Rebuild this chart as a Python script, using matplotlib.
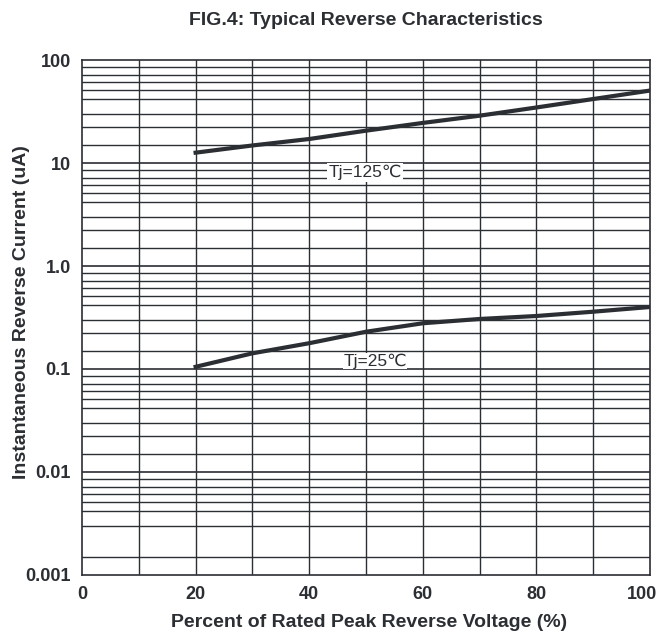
import matplotlib
matplotlib.use("Agg")
import matplotlib.pyplot as plt
import matplotlib.transforms as mtransforms

plt.rcParams["font.family"] = ["Liberation Sans", "DejaVu Sans"]

# data
voltage_pct = [20, 30, 40, 50, 60, 70, 80, 90, 100]
current_125c = [12.6, 14.8, 17.1, 20.6, 24.5, 28.8, 34.6, 41.8, 50.5]
current_25c = [0.105, 0.142, 0.178, 0.23, 0.278, 0.306, 0.327, 0.36, 0.40]

x_ticks = [0, 20, 40, 60, 80, 100]
y_ticks = [0.001, 0.01, 0.1, 1, 10, 100]
y_tick_labels = ["0.001", "0.01", "0.1", "1.0", "10", "100"]

# the printed log grid is not a regular one
minor_steps = [1.5, 2.25, 3, 4.2, 5.1, 6.1, 7.2, 8.5]

ink = "#2b2e33"

fig = plt.figure(figsize=(6.62, 6.35), dpi=100)
ax = fig.add_axes([0.1239, 0.0945, 0.8580, 0.8110])

ax.set_yscale("log")
ax.set_xlim(0, 100)
ax.set_ylim(0.001, 100)

# grid
for x in range(10, 100, 10):
    ax.axvline(x, color=ink, lw=1.0, zorder=1)
for dec in [0.001, 0.01, 0.1, 1, 10]:
    for m in minor_steps:
        if dec == 0.001 and m == 2.25:
            continue
        ax.axhline(dec * m, color=ink, lw=1.0, zorder=1)
    if dec > 0.001:
        ax.axhline(dec, color=ink, lw=1.2, zorder=1)

ax.plot(voltage_pct, current_125c, color=ink, lw=3, zorder=3)
ax.plot(voltage_pct, current_25c, color=ink, lw=3, zorder=3)

ax.text(49.8, 8.1, "Tj=125\u2103", ha="center", va="center", fontsize=12.5,
        color=ink, zorder=4,
        bbox=dict(facecolor="white", edgecolor="none", pad=1))
ax.text(51.6, 0.12, "Tj=25\u2103", ha="center", va="center", fontsize=12.5,
        color=ink, zorder=4,
        bbox=dict(facecolor="white", edgecolor="none", pad=0))

for s in ax.spines.values():
    s.set_color(ink)
    s.set_linewidth(1.2)

ax.set_xticks(x_ticks)
ax.set_xticklabels([str(v) for v in x_ticks])
ax.set_yticks(y_ticks)
ax.set_yticklabels(y_tick_labels)
ax.minorticks_off()
ax.tick_params(length=0, pad=8, labelsize=13, colors=ink)
for lab in ax.get_xticklabels() + ax.get_yticklabels():
    lab.set_fontweight("bold")
last = ax.get_xticklabels()[-1]
last.set_transform(last.get_transform() +
                   mtransforms.ScaledTranslation(-0.08, 0, fig.dpi_scale_trans))

fig.text(0.557, 0.019, "Percent of Rated Peak Reverse Voltage (%)",
         ha="center", va="center", fontsize=14, fontweight="bold", color=ink)
fig.text(0.032, 0.508, "Instantaneous Reverse Current (uA)", rotation=90,
         ha="center", va="center", fontsize=14, fontweight="bold", color=ink)
fig.text(0.553, 0.968, "FIG.4: Typical Reverse Characteristics", ha="center",
         va="center", fontsize=14, fontweight="bold", color=ink)

fig.savefig("out.png", dpi=100)
